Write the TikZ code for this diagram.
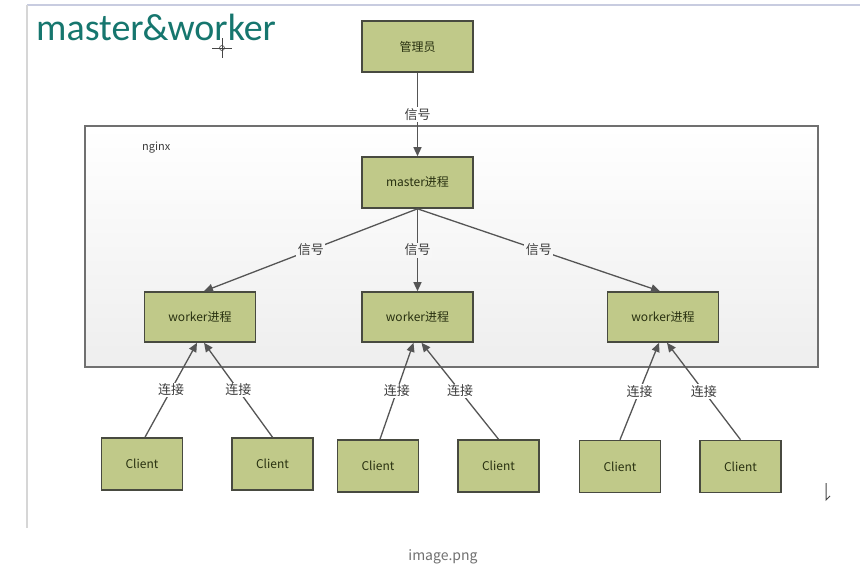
\documentclass[tikz,border=0pt]{standalone}
\usepackage{fontspec}
\setmainfont{Noto Sans CJK SC}
\newfontfamily\titlefont{Carlito}
\newfontfamily\cjkfont{Noto Sans CJK SC}
\usetikzlibrary{arrows.meta}
\definecolor{boxfill}{RGB}{192,201,137}
\definecolor{boxline}{RGB}{72,74,64}
\definecolor{boxtext}{RGB}{40,48,16}
\definecolor{edgecol}{RGB}{85,85,85}
\definecolor{titlecol}{RGB}{22,118,110}
\definecolor{contline}{RGB}{112,112,112}
\definecolor{contbot}{RGB}{238,238,238}
\definecolor{contmid}{RGB}{247,247,247}
\definecolor{labcol}{RGB}{60,60,60}
\definecolor{frametop}{RGB}{200,204,224}
\definecolor{frameleft}{RGB}{214,214,214}
\definecolor{cursorcol}{RGB}{70,70,70}
\definecolor{captioncol}{RGB}{112,112,112}
\tikzset{
  procbox/.style={draw=boxline, line width=1.6pt, fill=boxfill, inner sep=0pt,
    minimum width=111pt, minimum height=51pt, text=boxtext,
    font=\cjkfont\fontsize{12}{14}\selectfont},
  clientbox/.style={procbox, minimum width=81pt, minimum height=52pt},
  conn/.style={draw=edgecol, line width=1.3pt, -{Triangle[length=9pt,width=8pt]}},
  lab/.style={fill=#1, inner sep=1.5pt, text=labcol, font=\cjkfont\fontsize{13}{15}\selectfont},
  lab/.default={white}
}
\begin{document}
\begin{tikzpicture}[x=1pt, y=-1pt]
\useasboundingbox (0,0) rectangle (860,584);
\fill[white] (0,0) rectangle (860,584);
% screenshot frame
\draw[draw=frametop, line width=2pt] (27,5) -- (860,5);
\draw[draw=frameleft, line width=1.5pt] (27,5) -- (27,528);
% title
\node[anchor=base west, inner sep=0pt, text=titlecol, font=\titlefont\fontsize{38}{40}\selectfont] (title) at (36,40) {master\kern-1pt\&\kern-1pt worker};
% crosshair cursor artifact
\draw[draw=cursorcol, line width=0.8pt] (212,48) -- (232,48) (222,38) -- (222,58);
\draw[draw=cursorcol, line width=0.6pt] (222,48) circle (2.5pt);
% container
\draw[draw=contline, line width=1.5pt, top color=white, bottom color=contbot] (85,126) rectangle (818,367);
\node[anchor=west, inner sep=0pt, text=labcol, font=\cjkfont\fontsize{11}{13}\selectfont] (nginx) at (142,148) {nginx};
% boxes
\node[procbox] (admin) at (417.5,46.5) {管理员};
\node[procbox] (master) at (417.5,182.5) {master进程};
\node[procbox, minimum height=50pt] (w1) at (200,317) {worker进程};
\node[procbox, minimum height=50pt] (w2) at (417.5,317) {worker进程};
\node[procbox, minimum height=50pt] (w3) at (663,317) {worker进程};
\node[clientbox] (c1) at (142,464) {Client};
\node[clientbox] (c2) at (272.5,464) {Client};
\node[clientbox] (c3) at (378,466) {Client};
\node[clientbox] (c4) at (498.5,466) {Client};
\node[clientbox] (c5) at (620,466.5) {Client};
\node[clientbox] (c6) at (740.5,466.5) {Client};
% signals
\draw[conn] (admin.south) -- node[lab] {信号} (master.north);
\draw[conn] (master.south) -- node[lab=contmid] {信号} ([xshift=4pt]w1.north);
\draw[conn] (master.south) -- node[lab=contmid] {信号} (w2.north);
\draw[conn] (master.south) -- node[lab=contmid] {信号} ([xshift=-3pt]w3.north);
% connections
\draw[conn] ([xshift=3pt]c1.north) -- node[lab] {连接} ([xshift=-3pt]w1.south);
\draw[conn] (c2.north) -- node[lab] {连接} ([xshift=4pt]w1.south);
\draw[conn] ([xshift=2pt]c3.north) -- node[lab] {连接} ([xshift=-4pt]w2.south);
\draw[conn] (c4.north) -- node[lab] {连接} ([xshift=4pt]w2.south);
\draw[conn] (c5.north) -- node[lab] {连接} ([xshift=-4pt]w3.south);
\draw[conn] (c6.north) -- node[lab] {连接} ([xshift=4pt]w3.south);
% text cursor artifact
\draw[draw=cursorcol, line width=1pt] (826,483) -- (826,500) -- (830,496);
% caption
\node[text=captioncol, font=\fontsize{14}{16}\selectfont] (caption) at (443,557) {image.png};
\end{tikzpicture}
\end{document}
